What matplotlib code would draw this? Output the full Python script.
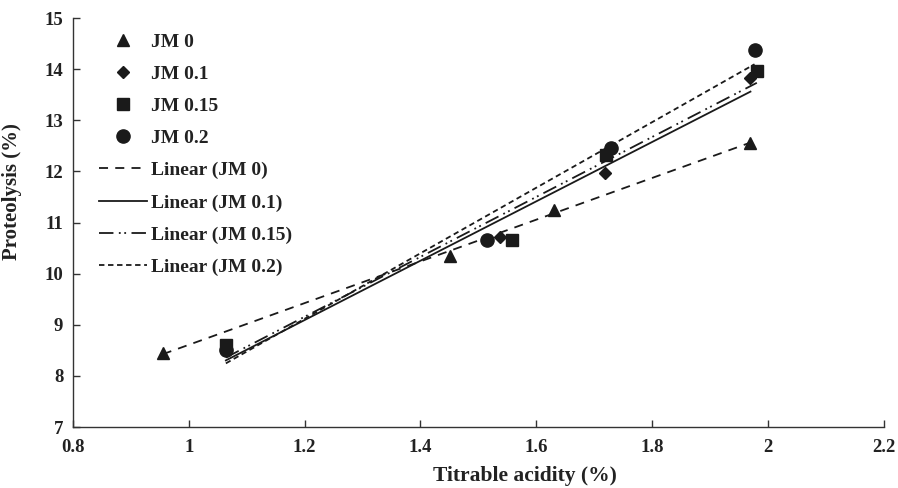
import numpy as np
import matplotlib
matplotlib.use("Agg")
import matplotlib.pyplot as plt

plt.rcParams['font.family'] = ['Liberation Serif', 'DejaVu Serif']
plt.rcParams['font.weight'] = 'bold'

series_names = ["JM 0", "JM 0.1", "JM 0.15", "JM 0.2"]
x_jm0 = [0.955, 1.451, 1.630, 1.969]
y_jm0 = [8.45, 10.35, 11.25, 12.56]
x_jm01 = [1.064, 1.537, 1.718, 1.970]
y_jm01 = [8.50, 10.71, 11.97, 13.83]
x_jm015 = [1.064, 1.558, 1.720, 1.981]
y_jm015 = [8.60, 10.66, 12.32, 13.97]
x_jm02 = [1.064, 1.515, 1.730, 1.977]
y_jm02 = [8.50, 10.66, 12.46, 14.37]

xs = [x_jm0, x_jm01, x_jm015, x_jm02]
ys = [y_jm0, y_jm01, y_jm015, y_jm02]
markers = ['^', 'D', 's', 'o']
msizes = [9, 6.5, 8.5, 9.5]
lstyles = [(0, (5, 4)), '-', (0, (8, 3, 1, 2, 1, 3)), (0, (3, 2))]

fig = plt.figure(figsize=(8.98, 4.88), dpi=100)
ax = fig.add_axes([0.0813, 0.125, 0.9027, 0.838])

for x, y, m, ms, name in zip(xs, ys, markers, msizes, series_names):
    ax.plot(x, y, linestyle='none', marker=m, markersize=ms, color='#1a1a1a', label=name)

for x, y, ls, name in zip(xs, ys, lstyles, series_names):
    k, b = np.polyfit(x, y, 1)
    xx = np.array([min(x), max(x)])
    ax.plot(xx, k * xx + b, linestyle=ls, color='#1a1a1a', linewidth=1.3, label=f"Linear ({name})")

ax.set_xlim(0.8, 2.2)
ax.set_ylim(7, 15)
ax.set_xticks([0.8, 1, 1.2, 1.4, 1.6, 1.8, 2, 2.2])
ax.set_xticklabels(["0.8", "1", "1.2", "1.4", "1.6", "1.8", "2", "2.2"])
ax.set_yticks(range(7, 16))
for s in ['top', 'right']:
    ax.spines[s].set_visible(False)
for s in ['left', 'bottom']:
    ax.spines[s].set_linewidth(1.0)
    ax.spines[s].set_color('#333333')
ax.tick_params(direction='in', length=5, width=1, colors='#333333', labelsize=13.5, labelcolor='#222222')
ax.tick_params(axis='x', pad=9)
ax.tick_params(axis='y', pad=7)
for lab in ax.get_xticklabels() + ax.get_yticklabels():
    lab.set_fontweight('bold')

ax.set_xlabel("Titrable acidity (%)", fontsize=15.5, fontweight='bold', color='#222222')
ax.set_ylabel("Proteolysis (%)", fontsize=15, fontweight='bold', color='#222222')
ax.xaxis.set_label_coords(0.557, -0.095)
ax.yaxis.set_label_coords(-0.063, 0.575)

leg = ax.legend(loc='upper left', bbox_to_anchor=(0.015, 0.997), frameon=False,
                handlelength=2.5, labelspacing=0.75, numpoints=1, handletextpad=0.18,
                borderaxespad=0.3, prop={'weight': 'bold', 'size': 14})
for t in leg.get_texts():
    t.set_color('#222222')

fig.savefig("out.png", dpi=100)
